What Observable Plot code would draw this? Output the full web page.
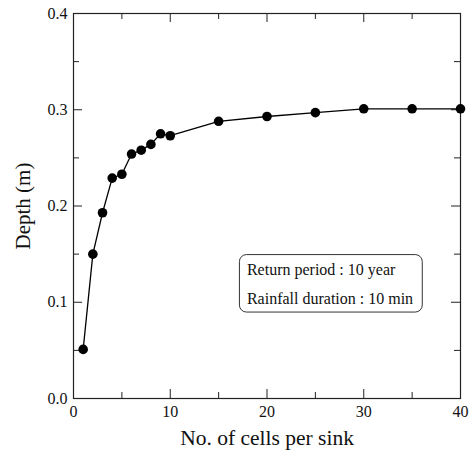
<!DOCTYPE html>
<html>
<head>
<meta charset="utf-8">
<script src="https://cdn.jsdelivr.net/npm/d3@7"></script>
<script src="https://cdn.jsdelivr.net/npm/@observablehq/plot@0.6"></script>
<style>
body { margin: 0; background: #fff; }
svg { font-family: "Liberation Serif", "DejaVu Serif", serif; }
</style>
</head>
<body>
<div id="chart"></div>
<script>
const cells = [1, 2, 3, 4, 5, 6, 7, 8, 9, 10, 15, 20, 25, 30, 35, 40];
const depth = [0.051, 0.150, 0.193, 0.229, 0.233, 0.254, 0.258, 0.264, 0.275, 0.273, 0.288, 0.293, 0.297, 0.301, 0.301, 0.301];
const xMajor = [0, 10, 20, 30, 40];
const xMinor = [5, 15, 25, 35];
const yMajor = [0, 0.1, 0.2, 0.3, 0.4];
const yMinor = [0.05, 0.15, 0.25, 0.35];
const noteLines = ["Return period : 10 year", "Rainfall duration : 10 min"];
const noteY = [0.1333, 0.1033];
const noteBox = {x1: 17.2, x2: 36.1, y1: 0.0893, y2: 0.149};

const data = cells.map((c, i) => ({c, d: depth[i]}));
const W = 471, H = 451, mL = 73, mR = 11, mT = 13, mB = 53;
const pw = W - mL - mR, ph = H - mT - mB;
const maj = 9, minr = 6;
const axisColor = "#222";

const chart = Plot.plot({
  width: W, height: H,
  marginLeft: mL, marginRight: mR, marginTop: mT, marginBottom: mB,
  style: {fontFamily: "Liberation Serif, serif", background: "#fff"},
  x: {domain: [0, 40]},
  y: {domain: [0, 0.4]},
  marks: [
    Plot.frame({stroke: axisColor, strokeWidth: 1.2}),
    Plot.tickY(yMajor, {y: d => d, insetRight: pw - maj, stroke: axisColor}),
    Plot.tickY(yMinor, {y: d => d, insetRight: pw - minr, stroke: axisColor}),
    Plot.tickY(yMajor, {y: d => d, insetLeft: pw - maj, stroke: axisColor}),
    Plot.tickY(yMinor, {y: d => d, insetLeft: pw - minr, stroke: axisColor}),
    Plot.tickX(xMajor, {x: d => d, insetTop: ph - maj, stroke: axisColor}),
    Plot.tickX(xMinor, {x: d => d, insetTop: ph - minr, stroke: axisColor}),
    Plot.tickX(xMajor, {x: d => d, insetBottom: ph - maj, stroke: axisColor}),
    Plot.tickX(xMinor, {x: d => d, insetBottom: ph - minr, stroke: axisColor}),
    Plot.axisY({ticks: yMajor, tickSize: 0, tickPadding: 6, tickFormat: d3.format(".1f"), fontSize: 16, label: null, color: "#111"}),
    Plot.axisX({ticks: xMajor, tickSize: 0, tickPadding: 7, tickFormat: d => String(d), fontSize: 16, label: null, color: "#111"}),
    Plot.text(["No. of cells per sink"], {frameAnchor: "bottom", dy: 40, fontSize: 21.5, fill: "#111", lineAnchor: "middle"}),
    Plot.text(["Depth (m)"], {frameAnchor: "left", textAnchor: "middle", lineAnchor: "middle", dx: -50, rotate: -90, fontSize: 21, fill: "#111"}),
    Plot.rect([noteBox], {x1: "x1", x2: "x2", y1: "y1", y2: "y2", rx: 7, fill: "white", stroke: "#333", strokeWidth: 1}),
    Plot.text(noteLines, {x: noteBox.x1, y: (d, i) => noteY[i], text: d => d, textAnchor: "start", dx: 7, fontSize: 16, fill: "#111"}),
    Plot.line(data, {x: "c", y: "d", stroke: "#000", strokeWidth: 1.3}),
    Plot.dot(data, {x: "c", y: "d", r: 4.8, fill: "#000", stroke: "none"})
  ]
});
document.getElementById("chart").appendChild(chart);
</script>
</body>
</html>
